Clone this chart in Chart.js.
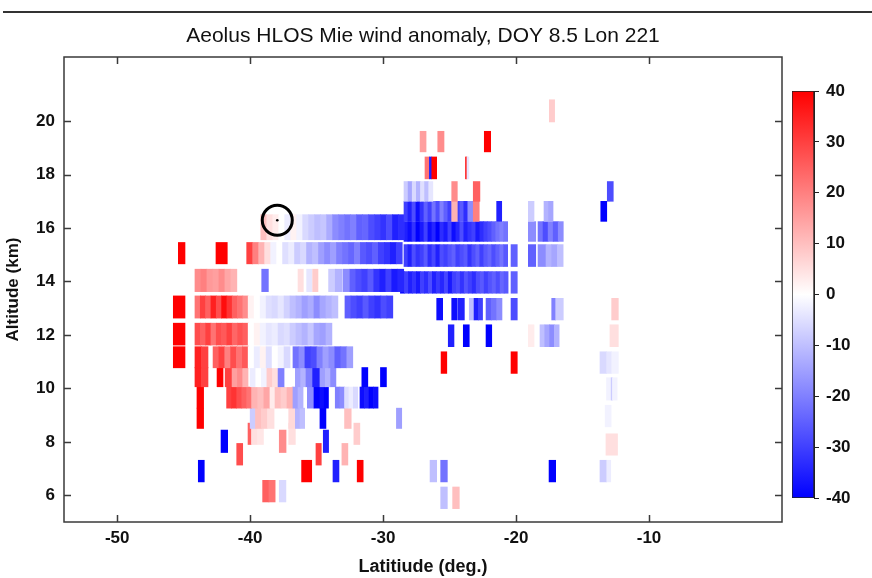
<!DOCTYPE html>
<html><head><meta charset="utf-8">
<script src="https://cdn.jsdelivr.net/npm/chart.js@4.4.0/dist/chart.umd.min.js"></script>
<style>
html,body{margin:0;padding:0;background:#fff;}
#wrap{position:relative;width:872px;height:578px;overflow:hidden;background:#fff;}
#rule{position:absolute;left:3px;top:11px;width:869px;height:2px;background:#333;}
#main{position:absolute;left:0;top:0;}
#cbar{position:absolute;left:780px;top:71px;}
</style></head><body>
<div id="wrap"><div id="rule"></div><canvas id="main" width="872" height="578"></canvas><canvas id="cbar" width="92" height="447"></canvas></div>
<script>
// ---- data: each row = altitude bin [lo, hi] km, runs = [lat start, lat step, [anomaly values m/s]]
const ROW_20_4 = { alt: [19.97, 20.80], runs: [[-17.50, 0.40, [8]]] };
const ROW_19_2 = { alt: [18.85, 19.62], runs: [[-27.22, 0.45, [15]], [-25.89, 0.47, [18]], [-22.39, 0.48, [40]]] };
const ROW_18_2 = { alt: [17.84, 18.66], runs: [[-26.85, 0.33, [22]], [-26.52, 0.18, [-35]], [-26.34, 0.37, [40]], [-23.80, 0.10, [40]], [-23.70, 0.15, [-4]]] };
const ROW_17_4 = { alt: [17.00, 17.74], runs: [[-28.43, 0.31, [-8, -14, -6, -12, -5, -10, -4]], [-24.84, 0.42, [18]], [-23.22, 0.50, [25]], [-13.14, 0.45, [-28]]] };
const ROW_16_6 = { alt: [16.25, 17.00], runs: [[-28.43, 0.30, [-30, -35, -28, -38, -32, -25, -30, -22, -28, -20, -25, -30, -22, -30, -26, -33]], [-24.84, 0.42, [12]], [-23.63, 0.40, [-18]], [-23.22, 0.45, [20]], [-21.46, 0.38, [-35]], [-19.08, 0.43, [-8]], [-17.90, 0.34, [-12, -14]], [-13.63, 0.45, [-40]]] };
const ROW_16_0 = { alt: [15.56, 16.50], runs: [[-39.20, 0.45, [10, 5, 3, 0, -3, 2, -2, -6, -8, -10, -9, -13, -18, -20, -22, -20, -25, -24, -28, -30, -32, -28, -35, -33]]] };
const ROW_15_9 = { alt: [15.50, 16.24], runs: [[-28.43, 0.30, [-35, -38, -32, -40, -36, -30, -38, -34, -40, -33, -36, -30, -38, -34, -28, -35, -32, -30, -36, -33, -30, -28, -25, -22, -20, -22]], [-19.08, 0.56, [-18]], [-18.35, 0.38, [-22, -28, -20, -25, -18]]] };
const ROW_15_0 = { alt: [14.66, 15.46], runs: [[-45.40, 0.50, [40]], [-42.57, 0.85, [40]], [-40.26, 0.45, [30, 20, 12, 5, -2, 0, -5, -3, -8, -6, -12, -10, -15, -18, -15, -20, -22, -24, -20, -26, -28, -25, -30, -32, -35, -30]]] };
const ROW_15_0B = { alt: [14.56, 15.38], runs: [[-28.43, 0.30, [-30, -35, -28, -32, -30, -26, -33, -29, -35, -28, -30, -27, -25, -30, -28, -26, -32, -28, -25, -30, -26, -24, -28, -25, -22, -26]], [-20.38, 0.47, [-25]], [-19.08, 0.56, [-25]], [-18.35, 0.60, [-18]], [-17.75, 0.43, [-12, -14, -10]]] };
const ROW_14_0 = { alt: [13.62, 14.46], runs: [[-44.15, 0.45, [18, 20, 16, 15, 18, 14, 12]], [-39.13, 0.50, [-22]], [-36.40, 0.40, [5]], [-35.75, 0.40, [-4]], [-35.30, 0.40, [8]], [-34.10, 0.50, [-8, -12]], [-33.02, 0.50, [-18]], [-32.50, 0.45, [-25, -28, -30, -26, -32, -35, -30, -36, -34]]] };
const ROW_14_0B = { alt: [13.56, 14.37], runs: [[-28.70, 0.30, [-38, -30, -35, -32, -36, -30, -33, -28, -35, -31, -34, -29, -36, -30, -28, -32, -27, -30, -33, -28, -26, -30, -27, -25, -28, -24, -26]], [-20.38, 0.47, [-25]]] };
const ROW_13_0 = { alt: [12.63, 13.46], runs: [[-45.78, 0.88, [40]], [-44.15, 0.40, [22, 30, 25, 35, 28, 38, 32, 25, 22, 18]], [-40.15, 0.45, [2, 0, -2, -5, -6, -4, -7, -10, -12, -15, -13, -18, -14, -12, -10]], [-32.87, 0.45, [-25, -28, -30, -26, -30, -32, -28, -30]]] };
const ROW_13_0B = { alt: [12.56, 13.37], runs: [[-25.97, 0.45, [-38]], [-24.84, 0.42, [-38]], [-24.35, 0.46, [-35]], [-23.52, 0.36, [-10]], [-23.16, 0.32, [-35, -30]], [-22.26, 0.40, [-25, -22]], [-21.46, 0.40, [-18]], [-20.38, 0.47, [-28]], [-17.32, 0.30, [-20]], [-17.02, 0.57, [-8]], [-12.81, 0.50, [8]]] };
const ROW_12_0 = { alt: [11.62, 12.44], runs: [[-45.78, 0.88, [40]], [-44.15, 0.40, [28, 25, 30, 22, 28, 26, 30, 24, 27, 25]], [-40.15, 0.45, [0, 2, -2, -4, -3, -6, -5, -8, -10, -12, -9, -14, -15, -12]]] };
const ROW_12_0B = { alt: [11.56, 12.38], runs: [[-25.10, 0.43, [-35]], [-23.97, 0.45, [-40]], [-22.26, 0.43, [-40]], [-19.08, 0.43, [3]], [-18.20, 0.36, [-10, -14, -18, -12]], [-12.94, 0.63, [5]]] };
const ROW_11_2 = { alt: [10.77, 11.56], runs: [[-45.78, 0.88, [40]], [-44.15, 0.49, [35, 30]], [-42.79, 0.44, [25, 30, 20, 28, 22, 26]], [-40.15, 0.45, [0, -3, 2, -5, 0, -2, -6]], [-36.78, 0.45, [-22, -18, -30, -28, -20, -15, -18, -25, -22, -15]]] };
const ROW_11_0B = { alt: [10.56, 11.37], runs: [[-25.64, 0.43, [40]], [-20.38, 0.47, [40]], [-13.69, 0.50, [-6]], [-13.18, 0.37, [-4]], [-12.81, 0.50, [-2]]] };
const ROW_10_4 = { alt: [10.06, 10.78], runs: [[-44.15, 0.49, [35, 30]], [-42.49, 0.45, [40]], [-41.88, 0.52, [30]], [-41.36, 0.40, [15, 18, 12]], [-40.00, 0.42, [-3, 0, -2]], [-38.74, 0.42, [8, 5]], [-37.90, 0.50, [-20]], [-37.40, 0.50, [0]], [-36.60, 0.40, [-15, -12]], [-35.80, 0.50, [-20]], [-35.30, 0.55, [-35]], [-34.75, 0.40, [-15, -12, -18]], [-31.60, 0.45, [-40]], [-30.20, 0.45, [-40]]] };
const ROW_9_6 = { alt: [9.26, 10.05], runs: [[-44.00, 0.50, [40]], [-41.77, 0.38, [30, 32, 28]], [-40.63, 0.37, [25, 22]], [-39.89, 0.46, [12, 10, 14]], [-38.51, 0.38, [3]], [-38.13, 0.45, [10, 8, 12]], [-36.78, 0.38, [-15, -12]], [-35.70, 0.50, [-18]], [-35.20, 0.45, [-40]], [-34.75, 0.32, [-38, -40]], [-33.60, 0.35, [-20, -18]], [-32.90, 0.33, [-5, -3, -6]], [-31.74, 0.34, [-38, -35, -40, -38]]] };
const ROW_8_9 = { alt: [8.50, 9.26], runs: [[-44.00, 0.50, [40]], [-40.00, 0.40, [-8]], [-39.60, 0.45, [10, 8]], [-38.70, 0.50, [5]], [-37.10, 0.50, [6]], [-36.60, 0.35, [-12, -10]], [-34.75, 0.45, [-40]], [-32.90, 0.50, [10]], [-29.00, 0.40, [-15]]] };
const ROW_8_2 = { alt: [7.90, 8.70], runs: [[-40.16, 0.26, [25]], [-39.90, 0.45, [5, 4]], [-37.10, 0.50, [5]], [-32.20, 0.45, [8]]] };
const ROW_8_0 = { alt: [7.60, 8.44], runs: [[-42.19, 0.50, [-40]], [-37.81, 0.51, [18]], [-34.50, 0.40, [-35]]] };
const ROW_7_5 = { alt: [7.13, 7.94], runs: [[-41.01, 0.45, [28]], [-35.05, 0.40, [30]], [-33.10, 0.45, [12]]] };
const ROW_6_9 = { alt: [6.50, 7.31], runs: [[-43.90, 0.45, [-40]], [-36.13, 0.76, [40]], [-33.77, 0.45, [-35]], [-31.95, 0.45, [40]], [-26.47, 0.50, [-10]], [-25.67, 0.50, [-22]], [-17.52, 0.50, [-40]], [-13.69, 0.51, [-8]], [-13.18, 0.30, [-3]]] };
const ROW_6_1 = { alt: [5.75, 6.56], runs: [[-39.06, 0.47, [25, 22]], [-37.81, 0.50, [-6]]] };
const ROW_5_9 = { alt: [5.50, 6.31], runs: [[-25.67, 0.50, [-10]], [-24.77, 0.50, [10]]] };
const ROW_R8 = { alt: [7.50, 8.30], runs: [[-13.24, 0.87, [5]]] };
const ROW_R9 = { alt: [8.56, 9.37], runs: [[-13.30, 0.45, [-2]]] };
const ROW_R10 = { alt: [9.56, 10.40], runs: [[-13.20, 0.35, [-2]], [-12.85, 0.10, [-8]], [-12.75, 0.35, [-2]]] };

const ROWS = [ROW_20_4, ROW_19_2, ROW_18_2, ROW_17_4, ROW_16_6, ROW_16_0, ROW_15_9, ROW_15_0, ROW_15_0B,
  ROW_14_0, ROW_14_0B, ROW_13_0, ROW_13_0B, ROW_12_0, ROW_12_0B, ROW_11_2, ROW_11_0B, ROW_10_4,
  ROW_9_6, ROW_8_9, ROW_8_2, ROW_8_0, ROW_7_5, ROW_6_9, ROW_6_1, ROW_5_9, ROW_R8, ROW_R9, ROW_R10];

const MARKER = [{ x: -37.96, y: 16.29 }];
const X_RANGE = [-54, 0];
const Y_RANGE = [5, 22.4];
const X_TICKS = [-50, -40, -30, -20, -10];
const Y_TICKS = [6, 8, 10, 12, 14, 16, 18, 20];
const CB_RANGE = [-40, 40];
const CB_TICK_STEP = 10;
const TITLE = 'Aeolus HLOS Mie wind anomaly, DOY 8.5 Lon 221';
const X_TITLE = 'Latitiude (deg.)';
const Y_TITLE = 'Altitude (km)';

// ---- colour map: blue (-40) -> white (0) -> red (+40)
function colorOf(v) {
  const t = Math.min(1, Math.abs(v) / CB_RANGE[1]);
  const c = Math.round(255 * (1 - t));
  return v >= 0 ? `rgb(255,${c},${c})` : `rgb(${c},${c},255)`;
}

function cellsOf(row) {
  const mid = (row.alt[0] + row.alt[1]) / 2;
  const out = [];
  row.runs.forEach(([l0, step, vals]) => vals.forEach((v, i) => {
    out.push({ y: mid, x: [l0 + i * step, l0 + (i + 1) * step], v });
  }));
  return out;
}
function thick(lo, hi) {
  return (ctx) => {
    const ys = ctx.chart.scales && ctx.chart.scales.y;
    if (!ys) return 20;
    const d = Math.abs(ys.getPixelForValue(lo) - ys.getPixelForValue(hi));
    return isFinite(d) && d > 0 ? d : 20;
  };
}

const FONT = "'Liberation Sans', Arial, sans-serif";
const barSets = ROWS.map(row => ({
  type: 'bar',
  indexAxis: 'y',
  data: cellsOf(row),
  backgroundColor: (ctx) => colorOf(ctx.raw ? ctx.raw.v : 0),
  borderWidth: 0,
  grouped: false,
  barThickness: thick(row.alt[0], row.alt[1]),
  order: 5
}));

const framePlugin = {
  id: 'frame',
  afterDatasetsDraw(chart) {
    const { ctx, chartArea: a, scales: { x, y } } = chart;
    ctx.save();
    ctx.strokeStyle = '#3a3a3a';
    ctx.lineWidth = 1.5;
    ctx.strokeRect(a.left, a.top, a.right - a.left, a.bottom - a.top);
    ctx.beginPath();
    x.ticks.forEach(t => {
      const p = Math.round(x.getPixelForValue(t.value)) + 0.5;
      ctx.moveTo(p, a.bottom); ctx.lineTo(p, a.bottom - 7);
      ctx.moveTo(p, a.top); ctx.lineTo(p, a.top + 7);
    });
    y.ticks.forEach(t => {
      const p = Math.round(y.getPixelForValue(t.value)) + 0.5;
      ctx.moveTo(a.left, p); ctx.lineTo(a.left + 7, p);
      ctx.moveTo(a.right, p); ctx.lineTo(a.right - 7, p);
    });
    ctx.stroke();
    ctx.restore();
  }
};

new Chart(document.getElementById('main'), {
  type: 'scatter',
  data: {
    datasets: [
      { type: 'scatter', data: MARKER, pointRadius: 15, borderWidth: 3, borderColor: '#000', backgroundColor: 'rgba(0,0,0,0)', order: -2 },
      { type: 'scatter', data: MARKER, pointRadius: 1.3, borderWidth: 0, backgroundColor: '#000', order: -3 },
      ...barSets
    ]
  },
  options: {
    responsive: false,
    animation: false,
    events: [],
    layout: { padding: { left: 0, right: 90, top: 0, bottom: 0 } },
    plugins: {
      legend: { display: false },
      tooltip: { enabled: false },
      title: {
        display: true, text: TITLE, fullSize: false, color: '#111',
        font: { family: FONT, size: 21, weight: 'normal', lineHeight: 1.2 },
        padding: { top: 24, bottom: 7.8 }
      }
    },
    scales: {
      x: {
        type: 'linear', min: X_RANGE[0], max: X_RANGE[1], offset: false,
        afterBuildTicks: s => { s.ticks = X_TICKS.map(v => ({ value: v })); },
        afterFit: s => { s.height = 56; },
        grid: { display: false, drawTicks: false, tickLength: 0 },
        border: { display: false },
        ticks: { color: '#111', padding: 6, font: { family: FONT, size: 17, weight: 'bold' } },
        title: { display: true, text: X_TITLE, color: '#111', padding: { top: 0, bottom: 0 }, font: { family: FONT, size: 18, weight: 'bold', lineHeight: 1.2 } }
      },
      y: {
        type: 'linear', min: Y_RANGE[0], max: Y_RANGE[1], offset: false,
        afterBuildTicks: s => { s.ticks = Y_TICKS.map(v => ({ value: v })); },
        afterFit: s => { s.width = 64; },
        grid: { display: false, drawTicks: false, tickLength: 0 },
        border: { display: false },
        ticks: { color: '#111', padding: 9, font: { family: FONT, size: 17, weight: 'bold' } },
        title: { display: true, text: Y_TITLE, color: '#111', padding: { top: 3, bottom: 0 }, font: { family: FONT, size: 17, weight: 'bold', lineHeight: 1.2 } }
      }
    }
  },
  plugins: [framePlugin]
});

// ---- colour bar
new Chart(document.getElementById('cbar'), {
  type: 'bar',
  data: {
    labels: ['cb'],
    datasets: [{
      data: [CB_RANGE],
      backgroundColor: (ctx) => {
        const a = ctx.chart.chartArea;
        if (!a) return '#fff';
        const g = ctx.chart.ctx.createLinearGradient(0, a.bottom, 0, a.top);
        for (let v = CB_RANGE[0]; v <= CB_RANGE[1]; v += CB_TICK_STEP) {
          g.addColorStop((v - CB_RANGE[0]) / (CB_RANGE[1] - CB_RANGE[0]), colorOf(v));
        }
        return g;
      },
      borderColor: '#222', borderWidth: 1, borderSkipped: false,
      barPercentage: 1, categoryPercentage: 1
    }]
  },
  options: {
    responsive: false, animation: false, events: [],
    layout: { padding: { left: 12, top: 20, bottom: 20, right: 0 } },
    plugins: { legend: { display: false }, tooltip: { enabled: false } },
    scales: {
      x: { display: false },
      y: {
        position: 'right', min: CB_RANGE[0], max: CB_RANGE[1],
        afterFit: s => { s.width = 58; },
        ticks: { stepSize: CB_TICK_STEP, color: '#111', padding: 7, font: { family: FONT, size: 17, weight: 'bold' } },
        grid: { drawOnChartArea: false, drawTicks: true, tickLength: 5, color: '#222' },
        border: { display: true, color: '#222' }
      }
    }
  }
});
</script></body></html>
